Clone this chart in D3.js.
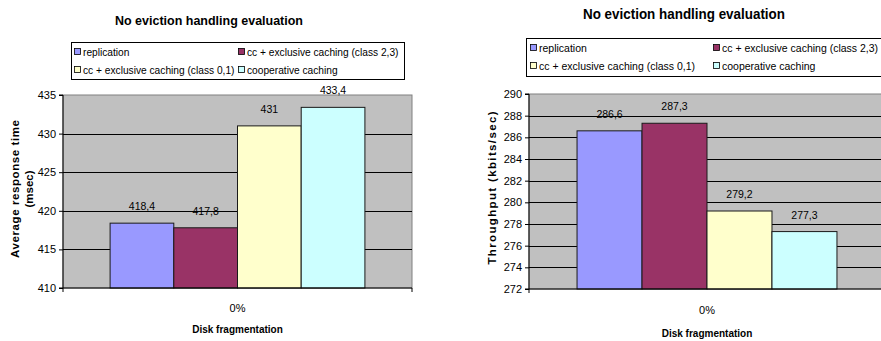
<!DOCTYPE html>
<html>
<head>
<meta charset="utf-8">
<script src="https://cdn.jsdelivr.net/npm/d3@7"></script>
<style>
  html, body { margin: 0; padding: 0; background: #fff; }
  svg { display: block; font-family: "Liberation Sans", Arial, sans-serif; }
</style>
</head>
<body>
<svg id="chart" width="881" height="341"></svg>
<script>
// ---------- data ----------
const categories = ["0%"];
const seriesNames = [
  "replication",
  "cc + exclusive caching (class 2,3)",
  "cc + exclusive caching (class 0,1)",
  "cooperative caching"
];
const seriesColors = ["#9999FF", "#993366", "#FFFFCC", "#CCFFFF"];
const responseTime = [418.4, 417.8, 431, 433.4];
const throughput = [286.6, 287.3, 279.2, 277.3];
const responseTicks = [410, 415, 420, 425, 430, 435];
const throughputTicks = [272, 274, 276, 278, 280, 282, 284, 286, 288, 290];
const chartTitle = "No eviction handling evaluation";
const xAxisTitle = "Disk fragmentation";
const responseTitle = ["Average response time", "(msec)"];
const throughputTitle = ["Throughput (kbits/sec)"];

// ---------- drawing ----------
const svg = d3.select("#chart");
const loc = d3.formatLocale({decimal: ",", thousands: ".", grouping: [3], currency: ["", ""]});
const fmt = loc.format(".1~f");

function drawChart(cfg) {
  const g = svg.append("g");
  const y = d3.scaleLinear().domain([cfg.ticks[0], cfg.ticks[cfg.ticks.length - 1]]).range([cfg.bottom, cfg.top]);
  const x0 = d3.scaleBand().domain(categories).range([cfg.left, cfg.right]).padding(0.156);
  const x1 = d3.scaleBand().domain(seriesNames).range([0, x0.bandwidth()]).padding(0);

  // title
  g.append("text")
    .attr("x", cfg.titleX).attr("y", cfg.titleY)
    .attr("text-anchor", "middle")
    .attr("font-weight", "bold").attr("font-size", cfg.titleSize)
    .attr("textLength", cfg.titleLen).attr("lengthAdjust", "spacingAndGlyphs")
    .text(chartTitle);

  // plot area
  g.append("rect")
    .attr("x", cfg.left).attr("y", cfg.top)
    .attr("width", cfg.right - cfg.left).attr("height", cfg.bottom - cfg.top)
    .attr("fill", "#C0C0C0").attr("stroke", "#808080").attr("stroke-width", 1);

  // gridlines
  g.append("g").selectAll("line")
    .data(cfg.ticks.slice(1, -1))
    .join("line")
    .attr("x1", cfg.left).attr("x2", cfg.right)
    .attr("y1", d => Math.round(y(d)) + 0.5).attr("y2", d => Math.round(y(d)) + 0.5)
    .attr("stroke", "#000").attr("stroke-width", 1);

  // bars
  const vals = cfg.values;
  g.append("g").selectAll("rect")
    .data(seriesNames.map((s, i) => ({s, v: vals[i], c: seriesColors[i]})))
    .join("rect")
    .attr("x", d => x0(categories[0]) + x1(d.s))
    .attr("y", d => y(d.v))
    .attr("width", x1.bandwidth())
    .attr("height", d => cfg.bottom - y(d.v))
    .attr("fill", d => d.c)
    .attr("stroke", "#1a1a1a").attr("stroke-width", 1);

  // data labels
  g.append("g").selectAll("text")
    .data(seriesNames.map((s, i) => ({s, v: vals[i]})))
    .join("text")
    .attr("x", d => x0(categories[0]) + x1(d.s) + x1.bandwidth() / 2)
    .attr("y", d => y(d.v) - 13)
    .attr("text-anchor", "middle")
    .attr("font-size", cfg.labelSize)
    .attr("fill", "#000")
    .text(d => fmt(d.v));

  // y axis
  const ya = g.append("g")
    .attr("transform", `translate(${cfg.left},0)`)
    .call(d3.axisLeft(y).tickValues(cfg.ticks).tickSize(4).tickPadding(3).tickFormat(d3.format("d")));
  ya.select(".domain").attr("stroke", "#000").attr("d", `M-4,${cfg.top}H0V${cfg.bottom}H-4`);
  ya.selectAll(".tick line").attr("stroke", "#000");
  ya.selectAll(".tick text").attr("font-size", cfg.tickSize).attr("font-family", "Liberation Sans, Arial, sans-serif").attr("fill", "#000");

  // x axis
  const xa = g.append("g")
    .attr("transform", `translate(0,${cfg.bottom})`)
    .call(d3.axisBottom(x0).tickSize(0).tickPadding(cfg.xTickPad));
  xa.select(".domain").attr("stroke", "#000").attr("d", `M${cfg.left},4V0H${cfg.right}V4`);
  xa.selectAll(".tick text").attr("font-size", cfg.tickSize).attr("font-family", "Liberation Sans, Arial, sans-serif").attr("fill", "#000");

  // x title
  g.append("text")
    .attr("x", (cfg.left + cfg.right) / 2).attr("y", cfg.xTitleY)
    .attr("text-anchor", "middle").attr("font-weight", "bold").attr("font-size", 10)
    .text(xAxisTitle);

  // y title
  const yt = g.append("text")
    .attr("transform", `translate(${cfg.yTitleX},${cfg.yTitleY}) rotate(-90)`)
    .attr("text-anchor", "middle").attr("font-weight", "bold").attr("font-size", cfg.yTitleSize);
  cfg.yTitle.forEach((line, i) => {
    const t = yt.append("tspan").attr("x", 0).attr("y", i * cfg.yTitleLine).text(line);
    if (cfg.yTitleLens[i]) t.attr("textLength", cfg.yTitleLens[i]).attr("lengthAdjust", "spacing");
  });

  // legend
  const lg = g.append("g");
  lg.append("rect")
    .attr("x", cfg.legX + 0.5).attr("y", cfg.legY + 0.5)
    .attr("width", cfg.legW).attr("height", cfg.legH)
    .attr("fill", "#fff").attr("stroke", "#000").attr("stroke-width", 1);
  seriesNames.forEach((s, i) => {
    const col = i % 2, row = Math.floor(i / 2);
    const sx = cfg.legX + cfg.legCols[col];
    const sy = cfg.legY + cfg.legRows[row];
    lg.append("rect")
      .attr("x", sx + 0.5).attr("y", sy - 3.5)
      .attr("width", 6).attr("height", 6)
      .attr("fill", seriesColors[i]).attr("stroke", "#000").attr("stroke-width", 0.8);
    lg.append("text")
      .attr("x", sx + 9).attr("y", sy + 3.8)
      .attr("font-size", cfg.legSize)
      .text(s);
  });
}

drawChart({
  values: responseTime, ticks: responseTicks,
  left: 63, right: 412, top: 95, bottom: 288,
  titleX: 209, titleY: 25, titleSize: 13.5, titleLen: 188,
  labelSize: 10.5, tickSize: 11, xTickPad: 16, xTitleY: 333,
  yTitle: responseTitle, yTitleX: 19, yTitleY: 189, yTitleSize: 11.5, yTitleLine: 14, yTitleLens: [138, 0],
  legX: 71, legY: 42, legW: 333, legH: 37, legCols: [3, 167], legRows: [10, 28], legSize: 10.2
});

drawChart({
  values: throughput, ticks: throughputTicks,
  left: 529, right: 885, top: 94, bottom: 289,
  titleX: 684, titleY: 19, titleSize: 14, titleLen: 202,
  labelSize: 10.5, tickSize: 11, xTickPad: 17, xTitleY: 337,
  yTitle: throughputTitle, yTitleX: 496, yTitleY: 188, yTitleSize: 11.5, yTitleLine: 14, yTitleLens: [153],
  legX: 526, legY: 38, legW: 360, legH: 38, legCols: [4, 187], legRows: [10, 28], legSize: 10.5
});
</script>
</body>
</html>
